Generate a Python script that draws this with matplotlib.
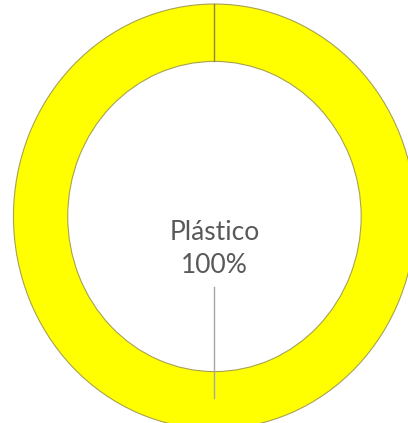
import matplotlib
matplotlib.use("Agg")
import matplotlib.pyplot as plt

categories = ["Plástico"]
values = [100]
colors = ["#FFFF00"]

fig = plt.figure(figsize=(4.08, 4.23), dpi=100)
ax = fig.add_axes([0, 0, 1, 1])

hole = 0.73
wedges, _ = ax.pie(values, colors=colors, startangle=90, counterclock=False,
                   radius=1, wedgeprops=dict(width=1 - hole, edgecolor="#a8a250", linewidth=0.8))

# slice boundary at the start angle
ax.plot([0, 0], [hole, 1], color="#8c8640", lw=1.0, zorder=5)

total = sum(values)
label = f"{categories[0]}\n{values[0] / total * 100:.0f}%"
ax.text(0, -0.155, label, ha="center", va="center", fontsize=19,
        family="Lato", color="#595959", linespacing=1.4)
# leader line from label to ring
ax.plot([0, 0], [-0.332, -0.854], color="#a6a6a6", lw=1.0, zorder=4)

ax.set_aspect("auto")
ax.set_xlim(-1.067, 0.963)
ax.set_ylim(-0.972, 1.019)
ax.axis("off")

fig.savefig("out.png", dpi=100)
